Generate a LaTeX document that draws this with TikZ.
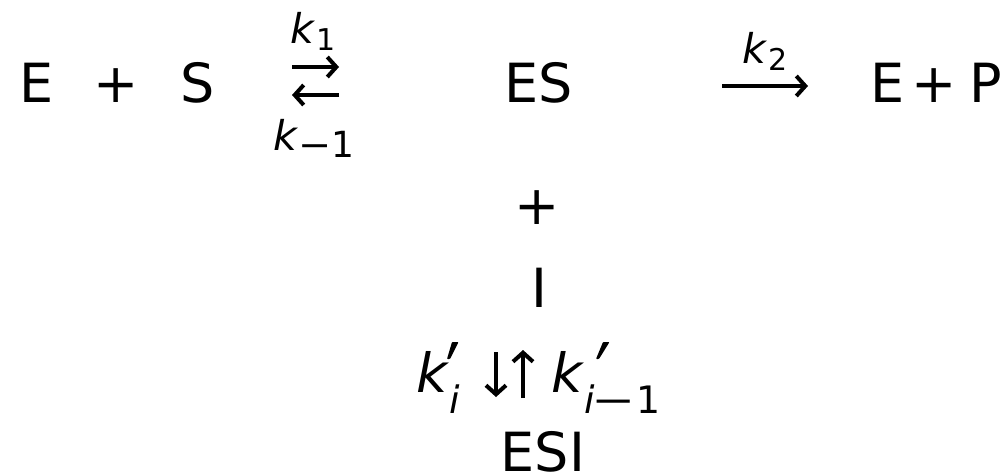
\documentclass[tikz,border=0pt]{standalone}
\usepackage{graphicx}
\usepackage{fontspec}
\setmainfont{DejaVu Sans}
\usetikzlibrary{arrows.meta}
% lowered subscript: #1 drop, #2 size, #3 text
\newcommand\subat[3]{\raisebox{-#1}{\fontsize{#2}{#2}\selectfont #3}}
\newcommand\wideminus{\scalebox{1.4}[1]{−}}
\begin{document}
\begin{tikzpicture}[x=1pt,y=-1pt,
  every node/.style={inner sep=0pt, outer sep=0pt, anchor=base},
  big/.style={font=\fontsize{54}{60}\selectfont},
  small/.style={font=\fontsize{41}{46}\selectfont},
  rxn/.style={line width=4pt, -{Straight Barb[length=9pt,width=20pt]}},
  primemark/.style={fill=black, rounded corners=0.8pt}]
\useasboundingbox (0,0) rectangle (1005,474);

% top row: E + S <=> ES -> E + P
\node[big] (E) at (37,102) {E};
\node[big] (plus1) at (116,102) {+};
\node[big] (S) at (198,102) {S};
\node[big] (ES) at (539,102) {ES};
\node[big] (E2) at (888,102) {E};
\node[big] (plus2) at (934,102) {+};
\node[big] (P) at (986,102) {P};

% rate constants of the first equilibrium
\node[small] (k1) at (313,43) {\textit{k}\subat{7pt}{30}{1}};
\node[small] (km1) at (314,150) {\textit{k}\subat{7pt}{36}{\scalebox{1.1}[1]{−}1}};
\node[small] (k2) at (765,63) {\textit{k}\subat{7pt}{30}{2}};

\coordinate (f1) at (292,67);
\coordinate (f2) at (339,67);
\coordinate (b1) at (339,95);
\coordinate (b2) at (292,95);
\draw[rxn] (f1) -- (f2);
\draw[rxn] (b1) -- (b2);

% irreversible product step
\coordinate (l1) at (722,86);
\coordinate (lm) at (762,86);
\coordinate (l2) at (808,86);
\draw[line width=4.7pt] (l1) -- (lm);
\draw[rxn] ([xshift=-2pt]lm) -- (l2);

% inhibitor binding
\node[big] (plus3) at (537,224) {+};
\node[big] (I) at (539,307) {I};
\node[big, anchor=base west] (ki) at (416,392)
  {\textit{k}\subat{21pt}{37.8}{\textit{i}}};
\node[big, anchor=base west] (kmi) at (551,392)
  {\textit{k}\subat{21pt}{37.8}{\textit{i}\kern-3pt\wideminus\kern1pt 1}};
% primes on the inhibition constants
\fill[primemark] (452,342) -- (458.5,342) -- (450,359) -- (447,359) -- cycle;
\fill[primemark] (603,342) -- (609.5,342) -- (599,359) -- (596,359) -- cycle;
\coordinate (d1) at (496,352);
\coordinate (d2) at (496,397);
\coordinate (u1) at (523,398);
\coordinate (u2) at (523,350);
\draw[rxn] (d1) -- (d2);
\draw[rxn] (u1) -- (u2);
\node[big] (ESI) at (543,471) {ESI};
\end{tikzpicture}
\end{document}
